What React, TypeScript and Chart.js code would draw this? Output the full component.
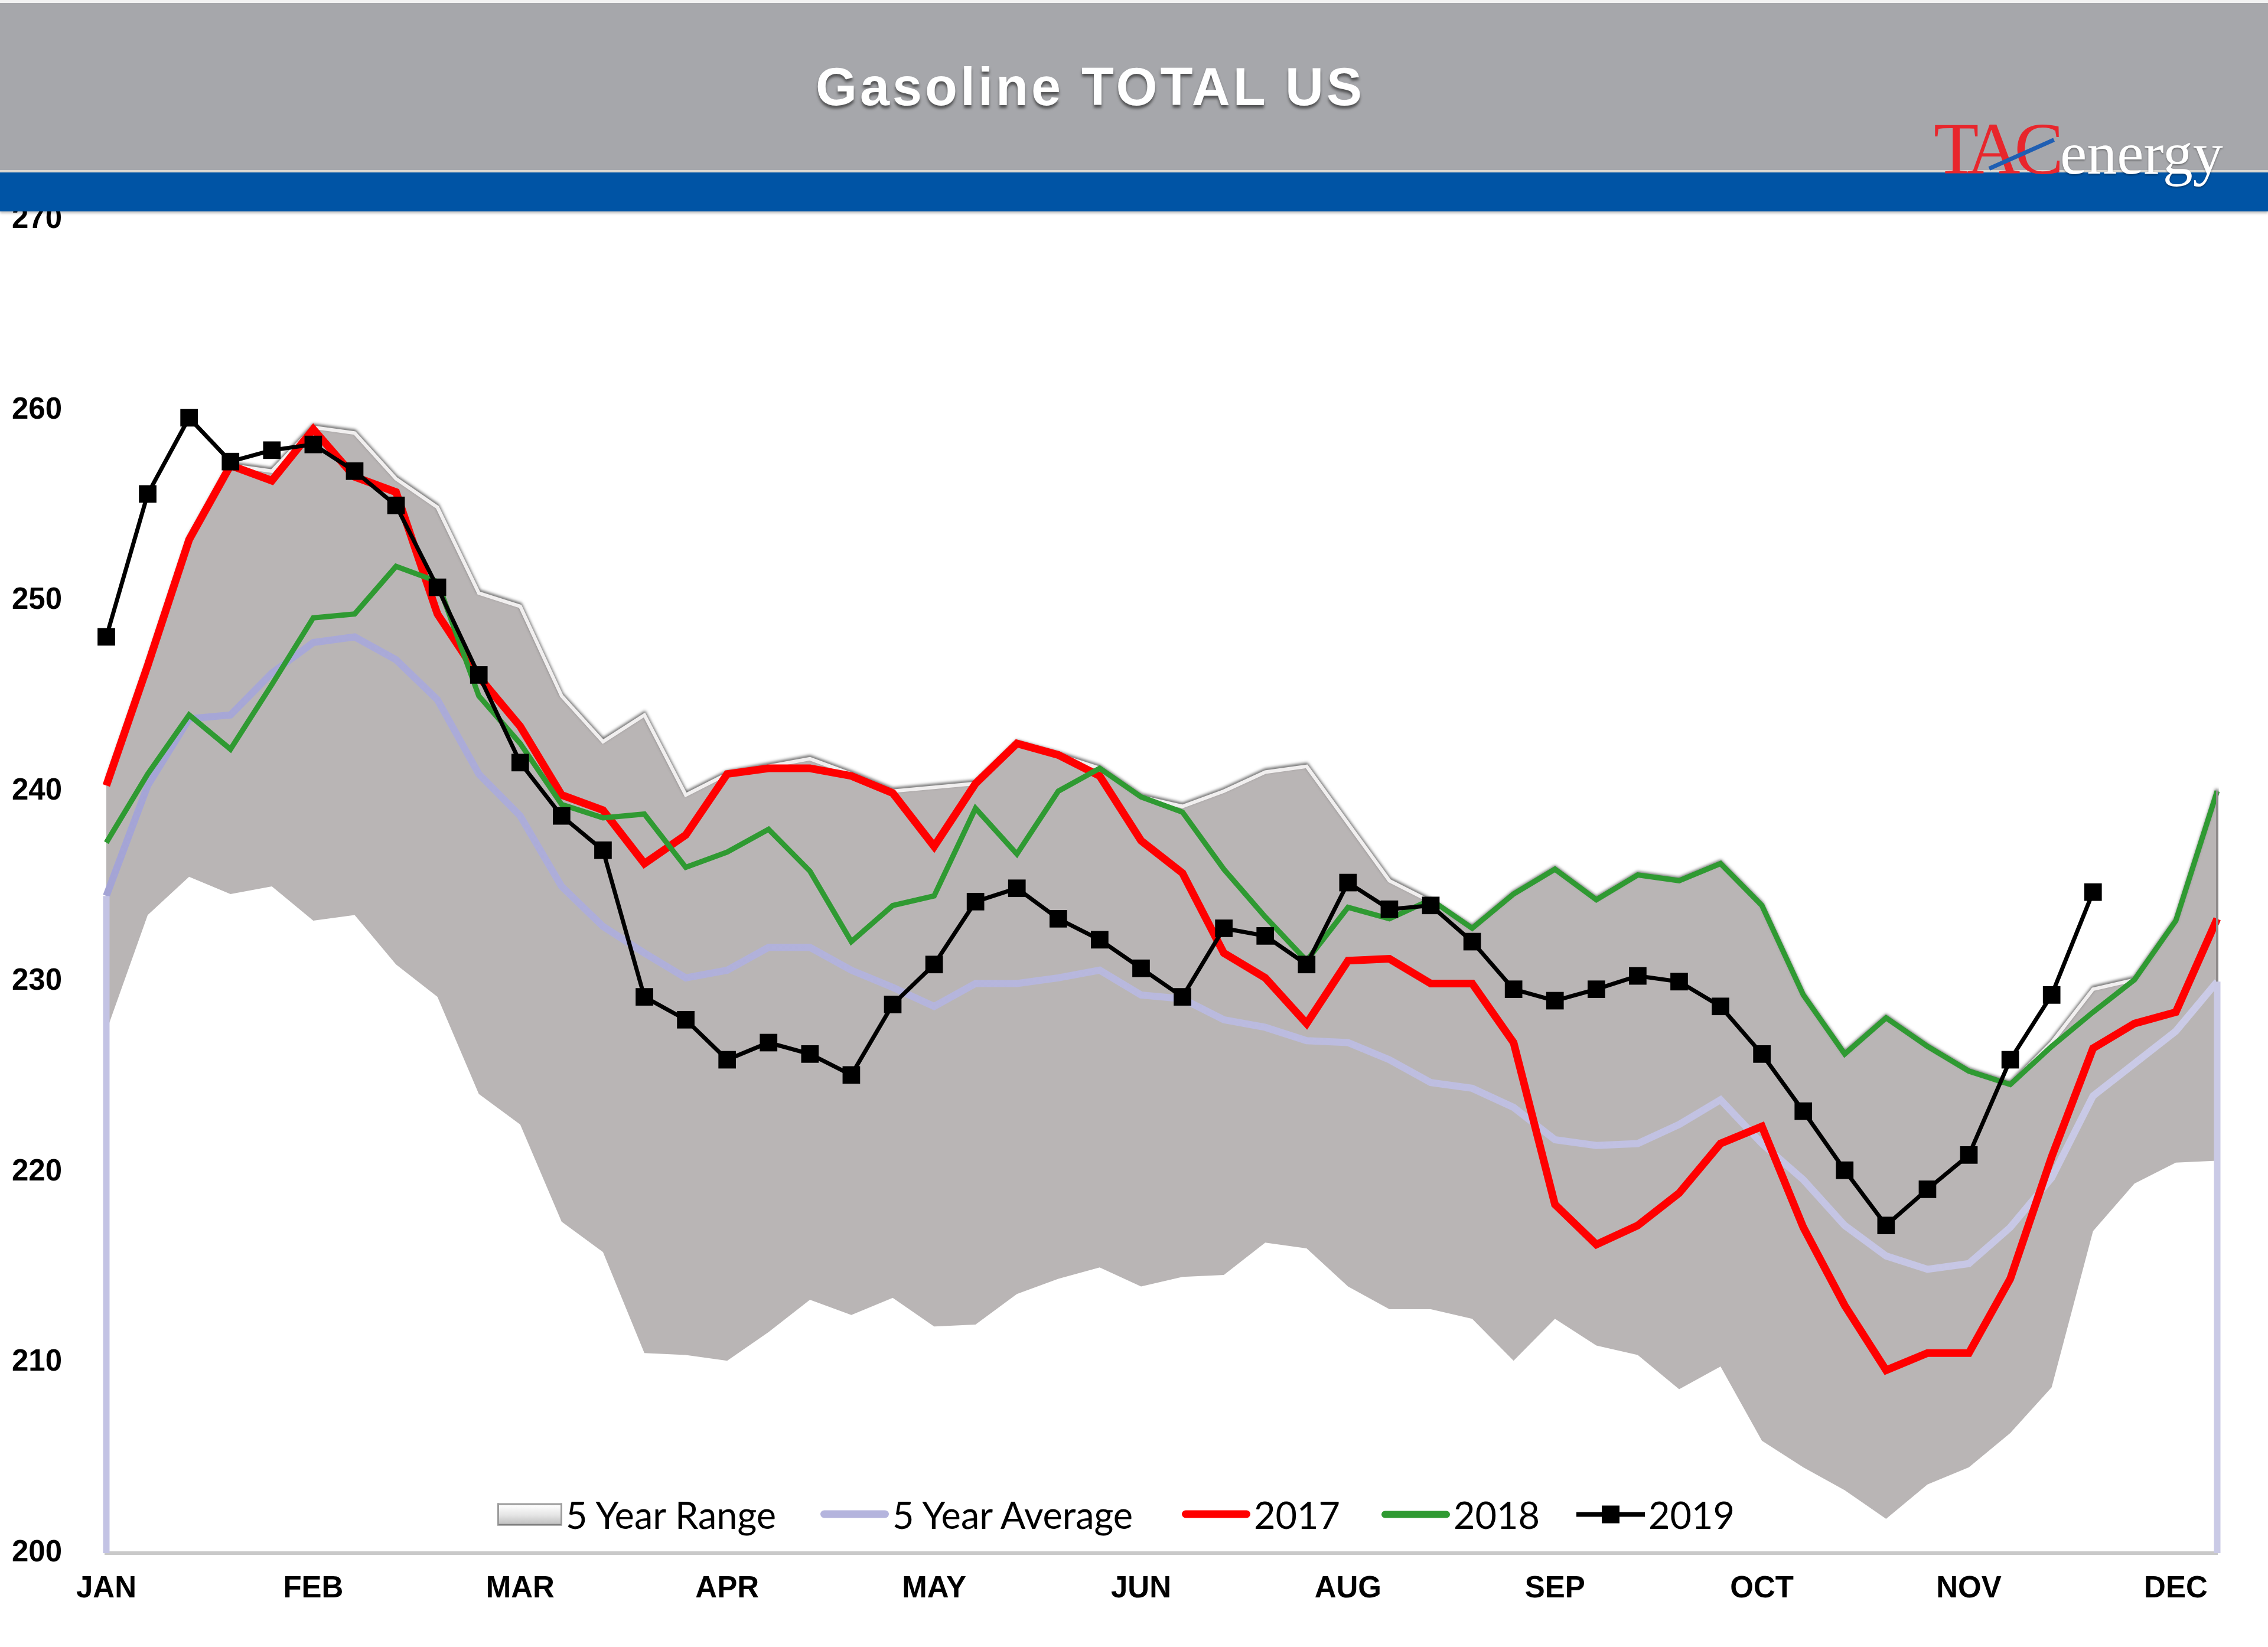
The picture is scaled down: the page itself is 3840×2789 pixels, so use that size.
import React, { useEffect, useRef } from 'react';
import { Chart, registerables } from 'chart.js';

Chart.register(...registerables);

// ---------- data (weekly, 52 weeks) ----------
const MONTH_TICKS = ['JAN', 'FEB', 'MAR', 'APR', 'MAY', 'JUN', 'AUG', 'SEP', 'OCT', 'NOV', 'DEC'];
const WEEKS_PER_MONTH_TICK = 5;

const SERIES_NAMES = ['5 Year Range', '5 Year Average', '2017', '2018', '2019'];

const RANGE_HIGH = [
  240.3, 246.6, 253.2, 257.1, 256.8, 259.1, 258.8, 256.4, 254.9, 250.4,
  249.7, 245.0, 242.6, 244.0, 239.8, 240.9, 241.3, 241.7, 240.9, 240.0,
  240.2, 240.4, 242.5, 241.9, 241.2, 239.7, 239.2, 240.0, 241.0, 241.3,
  238.3, 235.3, 234.2, 232.8, 234.6, 235.9, 234.3, 235.6, 235.3, 236.2,
  234.0, 229.3, 226.2, 228.1, 226.6, 225.3, 224.6, 226.8, 229.6, 230.1,
  233.2, 240.0,
];

const RANGE_LOW = [
  227.4, 233.5, 235.5, 234.6, 235.0, 233.2, 233.5, 230.9, 229.2, 224.1,
  222.5, 217.4, 215.8, 210.5, 210.4, 210.1, 211.6, 213.3, 212.5, 213.4,
  211.9, 212.0, 213.6, 214.4, 215.0, 214.0, 214.5, 214.6, 216.3, 216.0,
  214.0, 212.8, 212.8, 212.3, 210.1, 212.3, 210.9, 210.4, 208.6, 209.8,
  205.9, 204.5, 203.3, 201.8, 203.6, 204.5, 206.3, 208.7, 216.9, 219.4,
  220.5, 220.6,
];

const AVG_5Y = [
  234.5, 240.3, 243.8, 244.0, 246.2, 247.8, 248.1, 246.9, 244.8, 240.9,
  238.7, 235.0, 232.9, 231.5, 230.2, 230.6, 231.8, 231.8, 230.6, 229.7,
  228.7, 229.9, 229.9, 230.2, 230.6, 229.3, 229.1, 228.0, 227.6, 226.9,
  226.8, 225.9, 224.7, 224.4, 223.4, 221.7, 221.4, 221.5, 222.5, 223.8,
  221.5, 219.6, 217.2, 215.6, 214.9, 215.2, 217.1, 219.7, 224.0, 225.7,
  227.4, 230.0,
];

const Y2017 = [
  240.3, 246.6, 253.2, 257.1, 256.3, 259.0, 256.5, 255.7, 249.3, 246.0,
  243.4, 239.8, 239.0, 236.2, 237.7, 240.9, 241.2, 241.2, 240.8, 239.9,
  237.1, 240.4, 242.5, 241.9, 240.8, 237.4, 235.7, 231.5, 230.2, 227.8,
  231.1, 231.2, 229.9, 229.9, 226.8, 218.3, 216.2, 217.2, 218.9, 221.5,
  222.4, 217.1, 213.0, 209.6, 210.5, 210.5, 214.4, 220.8, 226.5, 227.8,
  228.4, 233.3,
];

const Y2018 = [
  237.3, 240.9, 244.0, 242.2, 245.6, 249.1, 249.3, 251.8, 251.0, 245.0,
  242.5, 239.3, 238.6, 238.8, 236.0, 236.8, 238.0, 235.8, 232.1, 234.0,
  234.5, 239.1, 236.7, 240.0, 241.2, 239.7, 238.9, 235.9, 233.4, 231.1,
  233.9, 233.3, 234.3, 232.8, 234.6, 235.9, 234.3, 235.6, 235.3, 236.2,
  234.0, 229.3, 226.2, 228.1, 226.6, 225.3, 224.6, 226.6, 228.4, 230.1,
  233.2, 240.0,
];

const Y2019: (number | null)[] = [
  248.1, 255.6, 259.6, 257.3, 257.9, 258.2, 256.8, 255.0, 250.7, 246.1,
  241.5, 238.7, 236.9, 229.2, 228.0, 225.9, 226.8, 226.2, 225.1, 228.8,
  230.9, 234.2, 234.9, 233.3, 232.2, 230.7, 229.2, 232.8, 232.4, 230.9,
  235.2, 233.8, 234.0, 232.1, 229.6, 229.0, 229.6, 230.3, 230.0, 228.7,
  226.2, 223.2, 220.1, 217.2, 219.1, 220.9, 225.9, 229.3, 234.7, null,
  null, null,
];

const Y_MIN = 200;
const Y_MAX = 270;
const Y_STEP = 10;

const WEEK_LABELS = RANGE_HIGH.map((_, i) =>
  i % WEEKS_PER_MONTH_TICK === 0 ? MONTH_TICKS[i / WEEKS_PER_MONTH_TICK] ?? '' : ''
);

// ---------- styles ----------
const COLOR_RANGE_FILL = '#b9b5b5';
const COLOR_RANGE_EDGE = '#f1efef';
const COLOR_AVG_START = '#a4a4d5';
const COLOR_AVG_END = '#cbcbe7';
const COLOR_2017 = '#ff0000';
const COLOR_2018 = '#2f9a32';
const COLOR_2019 = '#000000';

const RANGE_HIGH_IDX = 0;

export default function App() {
  const canvasRef = useRef<HTMLCanvasElement | null>(null);

  useEffect(() => {
    const canvas = canvasRef.current;
    if (!canvas) return;

    const avgGradient = (ctx: any) => {
      const chart = ctx.chart;
      const area = chart.chartArea;
      if (!area) return COLOR_AVG_START;
      const g = chart.ctx.createLinearGradient(area.left, 0, area.right, 0);
      g.addColorStop(0, COLOR_AVG_START);
      g.addColorStop(0.5, '#b9b9de');
      g.addColorStop(1, COLOR_AVG_END);
      return g;
    };

    const bevelPlugin = {
      id: 'rangeBevel',
      beforeDatasetDraw(chart: any, args: any) {
        if (args.index === RANGE_HIGH_IDX) {
          const c = chart.ctx;
          c.save();
          c.shadowColor = 'rgba(60,60,60,0.8)';
          c.shadowBlur = 5;
          c.shadowOffsetY = -3;
        }
      },
      afterDatasetDraw(chart: any, args: any) {
        if (args.index === RANGE_HIGH_IDX) chart.ctx.restore();
      },
    };

    const edgePlugin = {
      id: 'edgeLines',
      afterDatasetsDraw(chart: any) {
        const c = chart.ctx;
        const xs = chart.scales.x;
        const ys = chart.scales.y;
        const last = AVG_5Y.length - 1;
        c.save();
        c.strokeStyle = '#8e8a8a';
        c.lineWidth = 4;
        c.beginPath();
        c.moveTo(xs.getPixelForValue(last), ys.getPixelForValue(RANGE_HIGH[last]));
        c.lineTo(xs.getPixelForValue(last), ys.getPixelForValue(RANGE_LOW[last]));
        c.stroke();
        c.lineWidth = 11;
        [0, last].forEach((i) => {
          c.strokeStyle = i === 0 ? '#c3c3e4' : '#cacae6';
          const px = xs.getPixelForValue(i);
          c.beginPath();
          c.moveTo(px, ys.getPixelForValue(AVG_5Y[i]));
          c.lineTo(px, ys.getPixelForValue(Y_MIN));
          c.stroke();
        });
        c.restore();
      },
    };

    const chart = new Chart(canvas, {
      type: 'line',
      data: {
        labels: WEEK_LABELS,
        datasets: [
          {
            label: SERIES_NAMES[0],
            data: RANGE_HIGH,
            borderColor: COLOR_RANGE_EDGE,
            borderWidth: 6,
            backgroundColor: COLOR_RANGE_FILL,
            fill: '+1',
            pointRadius: 0,
            tension: 0,
            order: 4,
          },
          {
            label: SERIES_NAMES[0] + ' low',
            data: RANGE_LOW,
            borderWidth: 0,
            borderColor: 'rgba(0,0,0,0)',
            pointRadius: 0,
            fill: false,
            order: 5,
          },
          {
            label: SERIES_NAMES[1],
            data: AVG_5Y,
            borderColor: avgGradient,
            borderWidth: 12,
            pointRadius: 0,
            fill: false,
            tension: 0,
            order: 3,
          },
          {
            label: SERIES_NAMES[2],
            data: Y2017,
            borderColor: COLOR_2017,
            borderWidth: 13,
            pointRadius: 0,
            fill: false,
            tension: 0,
            order: 2,
          },
          {
            label: SERIES_NAMES[3],
            data: Y2018,
            borderColor: COLOR_2018,
            borderWidth: 9,
            pointRadius: 0,
            fill: false,
            tension: 0,
            order: 1,
          },
          {
            label: SERIES_NAMES[4],
            data: Y2019,
            borderColor: COLOR_2019,
            borderWidth: 7,
            pointStyle: 'rect',
            pointRadius: 21,
            pointBackgroundColor: COLOR_2019,
            pointBorderColor: COLOR_2019,
            pointBorderWidth: 0,
            fill: false,
            tension: 0,
            spanGaps: false,
            order: 0,
          },
        ],
      },
      options: {
        responsive: false,
        animation: false,
        devicePixelRatio: 1,
        layout: { padding: { left: 20, right: 86, top: 372, bottom: 0 } },
        plugins: {
          legend: { display: false },
          tooltip: { enabled: false },
          title: { display: false },
        },
        scales: {
          x: {
            type: 'category',
            offset: false,
            grid: { display: false, drawTicks: false },
            border: { display: true, color: '#c9c9c9', width: 6 },
            ticks: {
              autoSkip: false,
              maxRotation: 0,
              minRotation: 0,
              padding: 30,
              color: '#000',
              font: { family: 'Liberation Sans', weight: 'bold', size: 51 },
            },
            afterFit: (scale: any) => {
              scale.height = 159;
            },
          },
          y: {
            min: Y_MIN,
            max: Y_MAX,
            grid: { display: false, drawTicks: false },
            border: { display: false },
            ticks: {
              stepSize: Y_STEP,
              crossAlign: 'far',
              color: '#000',
              font: { family: 'Liberation Sans', weight: 'bold', size: 51 },
            },
            afterFit: (scale: any) => {
              scale.width = 160;
            },
          },
        },
      },
      plugins: [bevelPlugin, edgePlugin],
    } as any);

    return () => chart.destroy();
  }, []);

  const legendLeft = [842, 1389, 2001, 2339, 2669];
  const lineMarker = (color: string, thick: number) => (
    <div style={{ width: 116, height: thick, borderRadius: thick / 2, background: color }} />
  );
  const markers = [
    <div
      key="r"
      style={{
        width: 110,
        height: 38,
        boxSizing: 'border-box',
        border: '3px solid #9c9c9c',
        borderBottomColor: '#7d7d7d',
        background: 'linear-gradient(#ffffff, #e4e4e4 55%, #c2c2c2)',
      }}
    />,
    <div key="a">{lineMarker('#b4b4dd', 13)}</div>,
    <div key="17">{lineMarker(COLOR_2017, 13)}</div>,
    <div key="18">{lineMarker(COLOR_2018, 12)}</div>,
    <div key="19" style={{ position: 'relative', width: 116, height: 32 }}>
      <div style={{ position: 'absolute', left: 0, top: 12, width: 116, height: 8, background: '#000' }} />
      <div style={{ position: 'absolute', left: 43, top: 1, width: 30, height: 30, background: '#000' }} />
    </div>,
  ];

  return (
    <div
      style={{
        position: 'absolute',
        left: 0,
        top: 0,
        width: 3840,
        height: 2789,
        background: '#ffffff',
        overflow: 'hidden',
      }}
    >
      <canvas
        ref={canvasRef}
        width={3840}
        height={2789}
        style={{ position: 'absolute', left: 0, top: 0, width: 3840, height: 2789 }}
      />
      {/* header */}
      <div style={{ position: 'absolute', left: 0, top: 0, width: 3840, height: 5, background: '#f2f2f2' }} />
      <div style={{ position: 'absolute', left: 0, top: 5, width: 3840, height: 283, background: '#a6a7ab' }} />
      <div style={{ position: 'absolute', left: 0, top: 288, width: 3840, height: 4, background: '#dcd8d0' }} />
      <div
        style={{
          position: 'absolute',
          left: 0,
          top: 292,
          width: 3840,
          height: 66,
          background: '#0054a5',
          boxShadow: '0 3px 4px rgba(0,0,0,0.25)',
        }}
      />
      <div
        style={{
          position: 'absolute',
          left: 1846,
          top: 147,
          transform: 'translate(-50%, -50%)',
          fontFamily: '"Liberation Sans", Arial, sans-serif',
          fontWeight: 'bold',
          fontSize: 90,
          letterSpacing: 5,
          lineHeight: 1,
          whiteSpace: 'nowrap',
          color: '#ffffff',
          textShadow: '0 5px 4px rgba(40,40,40,0.65)',
        }}
      >
        Gasoline TOTAL US
      </div>
      {/* logo */}
      <div
        style={{
          position: 'absolute',
          left: 3274,
          top: 190,
          display: 'flex',
          alignItems: 'baseline',
          fontFamily: '"Liberation Serif", "Times New Roman", serif',
          lineHeight: 1,
          whiteSpace: 'nowrap',
        }}
      >
        <span style={{ color: '#e8262c', fontSize: 125, letterSpacing: -10 }}>TAC</span>
        <span style={{ color: '#ffffff', fontSize: 102, marginLeft: 4, textShadow: '0 2px 3px rgba(0,0,0,0.35)' }}>
          energy
        </span>
      </div>
      <div
        style={{
          position: 'absolute',
          left: 3368,
          top: 282,
          width: 120,
          height: 7,
          background: '#1f5fb3',
          transform: 'rotate(-24deg)',
          transformOrigin: 'left center',
        }}
      />
      {/* legend */}
      {SERIES_NAMES.map((name, i) => (
        <div
          key={name}
          style={{
            position: 'absolute',
            left: legendLeft[i],
            top: 2564,
            transform: 'translateY(-50%)',
            display: 'flex',
            alignItems: 'center',
            whiteSpace: 'nowrap',
          }}
        >
          {markers[i]}
          <span
            style={{
              marginLeft: 6,
              fontFamily: 'Lato, "Open Sans", sans-serif',
              fontSize: 63,
              lineHeight: 1,
              color: '#000',
            }}
          >
            {name}
          </span>
        </div>
      ))}
    </div>
  );
}
